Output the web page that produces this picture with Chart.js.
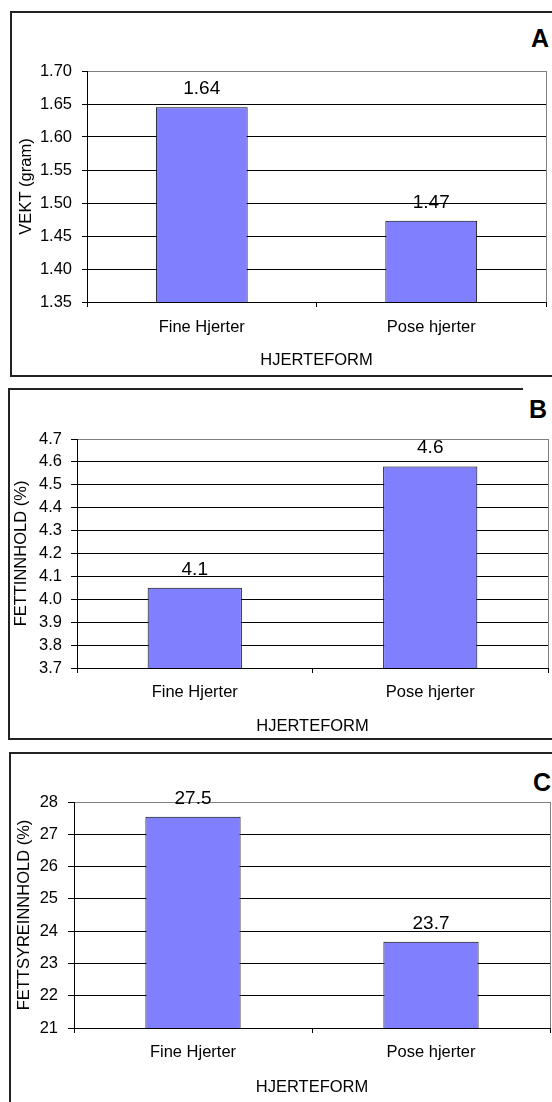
<!DOCTYPE html>
<html>
<head>
<meta charset="utf-8">
<script src="https://cdn.jsdelivr.net/npm/chart.js@4"></script>
<style>
    body { margin: 0; background: #fff; width: 552px; height: 1102px; overflow: hidden; position: relative; font-family: 'Liberation Sans', Arial, sans-serif; }
    canvas { position: absolute; left: 0; }
    .frame { position: absolute; border: 0 solid #222; }
    .tag { position: absolute; font-weight: bold; font-size: 25px; line-height: 25px; color: #000; }
</style>
</head>
<body>
<!-- panel frames -->
<div class="frame" style="left:10px; top:11px; width:600px; height:362px; border-width:2px 0 2px 2px;"></div>
<div class="frame" style="left:8px; top:388px; width:600px; height:350px; border-width:0 0 2px 2px;"></div>
<div class="frame" style="left:8px; top:388px; width:515px; height:0; border-width:2px 0 0 0;"></div>
<div class="frame" style="left:9px; top:752px; width:600px; height:400px; border-width:2px 0 0 2px;"></div>

<div class="tag" style="top:26px; right:3px;">A</div>
<div class="tag" style="top:397px; right:5px;">B</div>
<div class="tag" style="top:770px; right:1px;">C</div>

<canvas id="chartA" width="552" height="376" style="top:0"></canvas>
<canvas id="chartB" width="552" height="364" style="top:376px"></canvas>
<canvas id="chartC" width="552" height="362" style="top:740px"></canvas>

<script>
// categories on the x axis (same for all three panels)
const categories = ['Fine Hjerter', 'Pose hjerter'];

// A: weight
const vektValues = [1.645, 1.473];
const vektLabels = ['1.64', '1.47'];
// B: fat content
const fettValues = [4.05, 4.58];
const fettLabels = ['4.1', '4.6'];
// C: fatty acid content
const syreValues = [27.54, 23.67];
const syreLabels = ['27.5', '23.7'];

Chart.defaults.font.family = "'Liberation Sans', Arial, sans-serif";
Chart.defaults.font.size = 16.5;
Chart.defaults.color = '#000';

// gray right edge of the plot area
const plotFrame = {
    id: 'plotFrame',
    beforeDatasetsDraw(chart) {
        const { ctx, chartArea } = chart;
        const x = Math.round(chartArea.right) + 0.5;
        ctx.save();
        ctx.strokeStyle = '#808080';
        ctx.lineWidth = 1;
        ctx.beginPath();
        ctx.moveTo(x, chartArea.top);
        ctx.lineTo(x, chartArea.bottom);
        ctx.stroke();
        ctx.restore();
    }
};

// value printed above each bar
const valueLabels = {
    id: 'valueLabels',
    afterDatasetsDraw(chart, args, opts) {
        const { ctx } = chart;
        const meta = chart.getDatasetMeta(0);
        ctx.save();
        ctx.font = "19px 'Liberation Sans', Arial, sans-serif";
        ctx.fillStyle = '#000';
        ctx.textAlign = 'center';
        ctx.textBaseline = 'middle';
        meta.data.forEach((bar, i) => {
            ctx.fillText(opts.texts[i], bar.x, bar.y - 18.5);
        });
        ctx.restore();
    }
};

function makeChart(id, s) {
    return new Chart(document.getElementById(id), {
        type: 'bar',
        data: {
            labels: categories,
            datasets: [{
                data: s.values,
                backgroundColor: '#8080FF',
                borderColor: '#000',
                borderWidth: 1,
                barPercentage: 0.4,
                categoryPercentage: 1
            }]
        },
        options: {
            responsive: false,
            animation: false,
            layout: { padding: { top: s.top, right: s.right, left: 0, bottom: 0 } },
            plugins: {
                legend: { display: false },
                tooltip: { enabled: false },
                valueLabels: { texts: s.texts }
            },
            scales: {
                x: {
                    afterFit: sc => { sc.height = s.xHeight; },
                    grid: { offset: true, drawOnChartArea: false, tickLength: 5, color: '#000' },
                    border: { color: '#000' },
                    ticks: { padding: s.xPad },
                    title: { display: true, text: 'HJERTEFORM', padding: { top: 0, bottom: s.xTitlePad } }
                },
                y: {
                    min: s.min,
                    max: s.max,
                    afterFit: sc => { sc.width = s.yWidth; },
                    grid: {
                        color: c => (c.tick && Math.abs(c.tick.value - s.max) < 1e-6) ? '#808080' : '#000',
                        tickColor: '#000',
                        tickLength: s.tick
                    },
                    border: { color: '#000' },
                    ticks: { stepSize: s.step, padding: s.yPad, callback: v => Number(v).toFixed(s.dec) },
                    title: { display: true, text: s.yTitle, padding: { top: s.yTitlePad, bottom: 0 } }
                }
            }
        },
        plugins: [plotFrame, valueLabels]
    });
}

makeChart('chartA', {
    values: vektValues, texts: vektLabels, yTitle: 'VEKT (gram)',
    min: 1.35, max: 1.70, step: 0.05, dec: 2,
    top: 71, right: 6, yWidth: 87, xHeight: 74,
    tick: 5, yPad: 10, xPad: 11, xTitlePad: 6, yTitlePad: 16.5
});

makeChart('chartB', {
    values: fettValues, texts: fettLabels, yTitle: 'FETTINNHOLD (%)',
    min: 3.7, max: 4.7, step: 0.1, dec: 1,
    top: 63, right: 4, yWidth: 77, xHeight: 72,
    tick: 6, yPad: 9, xPad: 9.5, xTitlePad: 4, yTitlePad: 12
});

makeChart('chartC', {
    values: syreValues, texts: syreLabels, yTitle: 'FETTSYREINNHOLD (%)',
    min: 21, max: 28, step: 1, dec: 0,
    top: 62, right: 2, yWidth: 74, xHeight: 74,
    tick: 6, yPad: 10, xPad: 9.5, xTitlePad: 5, yTitlePad: 15
});
</script>
</body>
</html>
